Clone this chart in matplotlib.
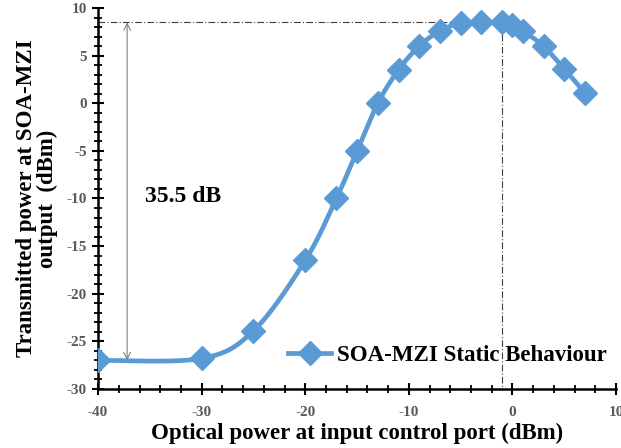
import numpy as np
import matplotlib
matplotlib.use("Agg")
import matplotlib.pyplot as plt
from matplotlib.ticker import MultipleLocator

plt.rcParams["axes.unicode_minus"] = False

x_vals = [-40, -30, -25, -20, -17, -15, -13, -11, -9, -7, -5, -3, -1, 0, 1, 3, 5, 7]
y_vals = [-27.0, -26.8, -23.9, -16.5, -10.0, -5.0, 0.0, 3.5, 6.0, 7.6, 8.4, 8.5, 8.5, 8.2, 7.6, 6.0, 3.6, 1.1]
series_name = "SOA-MZI Static Behaviour"
peak_x = -1
peak_y = 8.5
floor_y = -27.0
annot_text = "35.5 dB"
x_ticks = [-40, -30, -20, -10, 0, 10]
y_ticks = [-30, -25, -20, -15, -10, -5, 0, 5, 10]

color = "#5B9BD5"
serif = ["Liberation Serif", "DejaVu Serif"]


def smooth(xs, ys, n=30):
    # Excel-like smoothed line: cubic Bezier with Catmull-Rom control points
    xs = np.asarray(xs, float)
    ys = np.asarray(ys, float)
    px, py = [], []
    m = len(xs)
    for i in range(m - 1):
        x0, y0 = (xs[i - 1], ys[i - 1]) if i > 0 else (xs[i], ys[i])
        x1, y1 = xs[i], ys[i]
        x2, y2 = xs[i + 1], ys[i + 1]
        x3, y3 = (xs[i + 2], ys[i + 2]) if i + 2 < m else (x2, y2)
        c1x, c1y = x1 + (x2 - x0) / 6, y1 + (y2 - y0) / 6
        c2x, c2y = x2 - (x3 - x1) / 6, y2 - (y3 - y1) / 6
        t = np.linspace(0, 1, n)
        bx = (1 - t) ** 3 * x1 + 3 * (1 - t) ** 2 * t * c1x + 3 * (1 - t) * t ** 2 * c2x + t ** 3 * x2
        by = (1 - t) ** 3 * y1 + 3 * (1 - t) ** 2 * t * c1y + 3 * (1 - t) * t ** 2 * c2y + t ** 3 * y2
        px.extend(bx)
        py.extend(by)
    return np.array(px), np.array(py)


fig = plt.figure(figsize=(6.21, 4.48), dpi=100)
ax = fig.add_axes([0.158, 0.132, 0.834, 0.850])

sx, sy = smooth(x_vals, y_vals)
ax.plot(sx, sy, color=color, lw=3.4, zorder=3, solid_capstyle="round")
ax.plot(x_vals, y_vals, linestyle="none", marker="D", markersize=12.5, color=color, zorder=4)
ax.plot([], [], color=color, lw=3.4, marker="D", markersize=12.5, label=series_name)

# reference lines
ax.plot([-40, peak_x], [peak_y, peak_y], color="#404040", lw=0.8, ls=(0, (6, 2, 1, 2)), zorder=2)
ax.plot([peak_x, peak_x], [peak_y, -30], color="#404040", lw=0.8, ls=(0, (6, 2, 1, 2)), zorder=2)

# double arrow
ax.annotate("", xy=(-37.2, peak_y), xytext=(-37.2, floor_y),
            arrowprops=dict(arrowstyle="<->", color="#808080", lw=0.8, shrinkA=0, shrinkB=0,
                            mutation_scale=12))
ax.text(-35.5, -9.8, annot_text, fontsize=17, fontweight="bold", family=serif, va="center", ha="left")

ax.set_xlim(-40, 10)
ax.set_ylim(-30, 10)
ax.set_xticks(x_ticks)
ax.set_yticks(y_ticks)
ax.xaxis.set_minor_locator(MultipleLocator(2))
ax.yaxis.set_minor_locator(MultipleLocator(1))
ax.tick_params(which="major", direction="inout", width=1.5, length=8, color="black")
ax.tick_params(which="minor", direction="inout", width=1.3, length=6, color="black")
ax.tick_params(axis="x", which="major", pad=8)
ax.tick_params(axis="y", which="major", pad=4)
ax.tick_params(labelsize=11, labelcolor="#595959")
for lab in ax.get_xticklabels() + ax.get_yticklabels():
    lab.set_fontfamily(serif)
    lab.set_fontweight("bold")

for s in ["top", "right"]:
    ax.spines[s].set_visible(False)
for s in ["left", "bottom"]:
    ax.spines[s].set_linewidth(1.8)

ax.set_xlabel("Optical power at input control port (dBm)", fontsize=16.5, fontweight="bold",
              family=serif, labelpad=3)
ax.set_ylabel("Transmitted power at SOA-MZI\noutput  (dBm)", fontsize=16.5, fontweight="bold",
              family=serif, labelpad=6, linespacing=1.0)

leg = ax.legend(loc="lower right", bbox_to_anchor=(1.0, 0.035), frameon=False,
                prop=dict(family=serif, weight="bold", size=16.5), handlelength=1.9,
                handletextpad=0.25, borderaxespad=0)

fig.savefig("out.png", dpi=100)
